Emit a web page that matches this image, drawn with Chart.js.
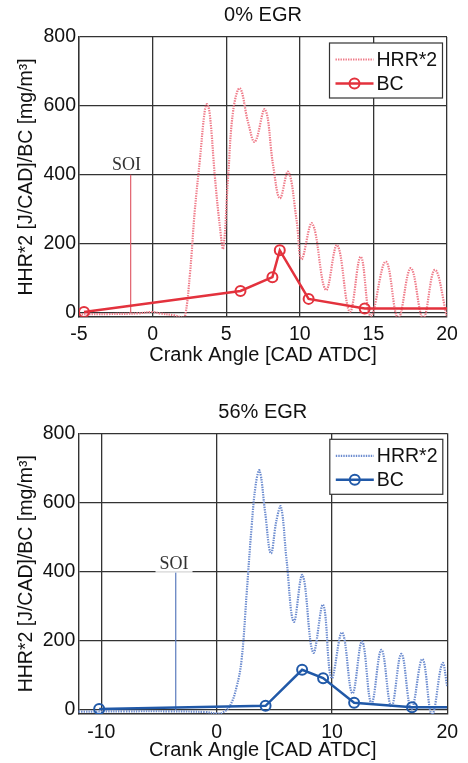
<!DOCTYPE html>
<html>
<head>
<meta charset="utf-8">
<script src="https://cdn.jsdelivr.net/npm/chart.js@4.4.1/dist/chart.umd.min.js"></script>
<style>
  html, body { margin: 0; padding: 0; background: #fff; }
  .wrap { position: absolute; left: 0; width: 468px; }
  #wrapTop { top: 0; height: 380px; }
  #wrapBottom { top: 380px; height: 383px; }
</style>
</head>
<body>
<div class="wrap" id="wrapTop"><canvas id="chartTop"></canvas></div>
<div class="wrap" id="wrapBottom"><canvas id="chartBottom"></canvas></div>
<script>
// --- data ---
const titles = ["0% EGR", "56% EGR"];
const seriesNames = ["HRR*2", "BC"];
const xTitle = "Crank Angle [CAD ATDC]";
const yTitle = "HHR*2 [J/CAD]/BC [mg/m\u00B3]";
const yTicks = [0, 200, 400, 600, 800];
const xTicksTop = [-5, 0, 5, 10, 15, 20];
const xTicksBottom = [-10, 0, 10, 20];

// 0% EGR
const hrrTopX = [-5, -3, -1, 0, 0.5, 1.5, 2.0, 2.2, 2.54, 2.87, 3.21, 3.55, 3.71, 3.9, 4.23, 4.57, 4.8,
  5.13, 5.48, 5.93, 6.5, 6.95, 7.63, 8.2, 8.65, 9.21, 9.78, 10.12, 10.84, 11.77, 12.54, 13.4,
  14.14, 14.82, 15.84, 16.68, 17.54, 18.38, 19.17, 20];
const hrrTopY = [-4, -4, -2, 2, -2, -8, -14, -12, 114, 298, 443, 588, 605, 570, 395, 250, 187,
  395, 588, 651, 550, 496, 590, 424, 332, 409, 269, 155, 259, 66, 196, 3,
  162, -10, 148, -16, 129, -16, 124, -12];
const bcTopX = [-4.66, 5.97, 8.14, 8.64, 10.6, 14.41, 20];
const bcTopY = [2, 63, 103, 181, 40, 12, 12];
const soiTopX = -1.49;

// 56% EGR
const hrrBotX = [-12, -8, -4, -1, 0, 0.5, 1.15, 1.73, 2.16, 2.6, 3.03, 3.4, 3.72, 4.18, 4.7,
  5.19, 5.57, 6.06, 6.69, 7.44, 8.37, 9.23, 9.96, 10.88, 11.77, 12.61, 13.42, 14.29, 15.15,
  16.02, 16.88, 17.84, 18.67, 19.57, 20];
const hrrBotY = [-5, -4, -4, -6, -10, -8, 12, 67, 145, 337, 530, 655, 692, 578, 453,
  549, 588, 434, 255, 390, 166, 304, 92, 224, 48, 198, 19, 174, 10,
  162, 2, 147, -14, 135, 67];
const bcBotX = [-10.19, 4.24, 7.41, 9.23, 11.92, 16.94, 20];
const bcBotY = [3, 12, 116, 92, 21, 8, 8];
const soiBotX = -3.55;

const soiTop = 400;
const soiLabelY = [431, 423];
const soiLabelX = [-1.78, -3.7];

Chart.defaults.font.family = "'Liberation Sans', Arial, sans-serif";
Chart.defaults.color = "#111";

function pts(xs, ys) {
  return xs.map((x, i) => ({ x: x, y: ys[i] }));
}

// legend box + SOI label drawn over the plot
const overlay = {
  id: "overlay",
  afterDatasetsDraw(chart, args, opts) {
    const { ctx, chartArea: a, scales: { x, y } } = chart;
    ctx.save();
    // SOI label
    ctx.font = "18px 'Liberation Serif', 'Times New Roman', serif";
    const lx = x.getPixelForValue(opts.soiX), ly = y.getPixelForValue(opts.soiY);
    const tw = ctx.measureText("SOI").width;
    ctx.fillStyle = "rgba(255,255,255,0.85)";
    ctx.fillRect(lx - tw / 2 - 4, ly - 10, tw + 8, 19);
    ctx.fillStyle = "#333";
    ctx.textAlign = "center";
    ctx.textBaseline = "middle";
    ctx.fillText("SOI", lx, ly + 1);

    // legend
    const bw = 113, bh = 55;
    const bx = a.right - 4.5 - bw, by = a.top + 6;
    ctx.fillStyle = "#fff";
    ctx.fillRect(bx, by, bw, bh);
    ctx.strokeStyle = "#333";
    ctx.lineWidth = 1.2;
    ctx.strokeRect(bx, by, bw, bh);
    [opts.hrr, opts.bc].forEach((ds, i) => {
      const ey = by + 16.5 + i * 24;
      ctx.beginPath();
      ctx.setLineDash(ds.borderDash || []);
      ctx.strokeStyle = ds.borderColor;
      ctx.lineWidth = ds.borderWidth;
      ctx.moveTo(bx + 6, ey);
      ctx.lineTo(bx + 44, ey);
      ctx.stroke();
      ctx.setLineDash([]);
      if (i === 1) {
        ctx.beginPath();
        ctx.lineWidth = 2;
        ctx.arc(bx + 25, ey, 5, 0, Math.PI * 2);
        ctx.stroke();
      }
      ctx.fillStyle = "#111";
      ctx.font = "19.5px 'Liberation Sans', Arial, sans-serif";
      ctx.textAlign = "left";
      ctx.textBaseline = "middle";
      ctx.fillText(ds.label, bx + 47, ey + 1);
    });
    ctx.restore();
  }
};

function makeChart(id, cfg) {
  const hrr = {
    label: seriesNames[0],
    data: pts(cfg.hrrX, cfg.hrrY),
    borderColor: cfg.hrrColor,
    borderWidth: 2.2,
    borderDash: [1.4, 1.1],
    pointRadius: 0,
    tension: 0.4,
    order: 2
  };
  const bc = {
    label: seriesNames[1],
    data: pts(cfg.bcX, cfg.bcY),
    borderColor: cfg.bcColor,
    borderWidth: 2.5,
    pointRadius: cfg.bcX.map((v, i) => (i === cfg.bcX.length - 1 ? 0 : 5)),
    pointBorderWidth: 2,
    pointBorderColor: cfg.bcColor,
    pointBackgroundColor: "rgba(255,255,255,0)",
    tension: 0,
    order: 0
  };
  const soi = {
    label: "SOI",
    data: pts([cfg.soiX, cfg.soiX], [0, soiTop]),
    borderColor: cfg.soiColor,
    borderWidth: 1.2,
    pointRadius: 0,
    order: 1
  };
  const grid = { color: "#333", lineWidth: 1.3, drawTicks: false };
  const border = { color: "#333", width: 1.4 };
  return new Chart(document.getElementById(id), {
    type: "line",
    data: { datasets: [hrr, bc, soi] },
    options: {
      responsive: true,
      maintainAspectRatio: false,
      animation: false,
      events: [],
      layout: { padding: { left: 0, right: cfg.padRight, top: 0, bottom: 0 } },
      plugins: {
        legend: { display: false },
        tooltip: { enabled: false },
        title: {
          display: true,
          fullSize: false,
          text: cfg.title,
          color: "#111",
          font: { size: 20, weight: "normal" },
          padding: { top: cfg.titleTop, bottom: cfg.titleBottom }
        },
        overlay: { soiX: cfg.soiLabelX, soiY: cfg.soiLabelY, hrr: hrr, bc: bc }
      },
      scales: {
        x: {
          type: "linear",
          min: cfg.xMin,
          max: 20,
          grid: grid,
          border: border,
          afterBuildTicks: s => { s.ticks = cfg.xTicks.map(v => ({ value: v })); },
          afterFit: s => { s.height = cfg.xAxisH; },
          ticks: { font: { size: 19.5 }, padding: 6.5, maxRotation: 0, color: "#111" },
          title: {
            display: true,
            text: xTitle,
            font: { size: 20 },
            color: "#111",
            padding: { top: 0, bottom: cfg.xTitlePad }
          }
        },
        y: {
          type: "linear",
          min: -12,
          max: 800,
          grid: grid,
          border: border,
          afterBuildTicks: s => { s.ticks = yTicks.map(v => ({ value: v })); },
          afterFit: s => { s.width = cfg.yAxisW; },
          ticks: { font: { size: 19.5 }, padding: 3, color: "#111" },
          title: {
            display: true,
            text: yTitle,
            font: { size: 19.5 },
            color: "#111",
            padding: { top: 15.3, bottom: 0 }
          }
        }
      }
    },
    plugins: [overlay]
  });
}

makeChart("chartTop", {
  title: titles[0], titleTop: 3.7, titleBottom: 9.3,
  hrrX: hrrTopX, hrrY: hrrTopY, bcX: bcTopX, bcY: bcTopY, soiX: soiTopX,
  soiLabelX: soiLabelX[0], soiLabelY: soiLabelY[0],
  hrrColor: "#ef7a88", bcColor: "#e3323d", soiColor: "#e2606c",
  xMin: -5, xTicks: xTicksTop, xAxisH: 63.2, xTitlePad: 12.3, yAxisW: 79, padRight: 21
});

makeChart("chartBottom", {
  title: titles[1], titleTop: 20, titleBottom: 9.3,
  hrrX: hrrBotX, hrrY: hrrBotY, bcX: bcBotX, bcY: bcBotY, soiX: soiBotX,
  soiLabelX: soiLabelX[1], soiLabelY: soiLabelY[1],
  hrrColor: "#6b8bcf", bcColor: "#2159a8", soiColor: "#5b7bbd",
  xMin: -12, xTicks: xTicksBottom, xAxisH: 48.9, xTitlePad: 0.3, yAxisW: 78.3, padRight: 20.7
});
</script>
</body>
</html>
